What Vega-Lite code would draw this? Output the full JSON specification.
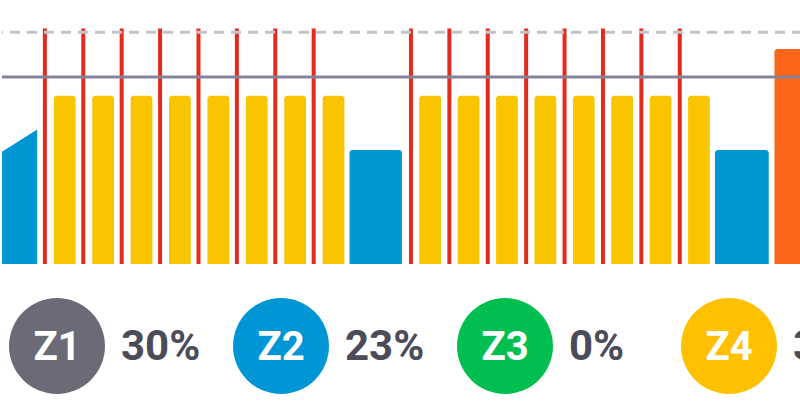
{
  "$schema": "https://vega.github.io/schema/vega-lite/v6.json",
  "padding": 0,
  "spacing": 0,
  "autosize": "pad",
  "background": "white",
  "config": {"view": {"stroke": null}, "font": "Roboto"},
  "datasets": {
    "segments": [
      {"start": 81, "end": 115, "power": 90, "zone": "Z4"},
      {"start": 141, "end": 175, "power": 90, "zone": "Z4"},
      {"start": 201, "end": 235, "power": 90, "zone": "Z4"},
      {"start": 261, "end": 295, "power": 90, "zone": "Z4"},
      {"start": 321, "end": 355, "power": 90, "zone": "Z4"},
      {"start": 381, "end": 415, "power": 90, "zone": "Z4"},
      {"start": 441, "end": 475, "power": 90, "zone": "Z4"},
      {"start": 501, "end": 535, "power": 90, "zone": "Z4"},
      {"start": 543, "end": 625, "power": 61, "zone": "Z2"},
      {"start": 652, "end": 686, "power": 90, "zone": "Z4"},
      {"start": 712, "end": 746, "power": 90, "zone": "Z4"},
      {"start": 772, "end": 806, "power": 90, "zone": "Z4"},
      {"start": 832, "end": 866, "power": 90, "zone": "Z4"},
      {"start": 892, "end": 926, "power": 90, "zone": "Z4"},
      {"start": 952, "end": 986, "power": 90, "zone": "Z4"},
      {"start": 1012, "end": 1046, "power": 90, "zone": "Z4"},
      {"start": 1072, "end": 1106, "power": 90, "zone": "Z4"},
      {"start": 1114, "end": 1198, "power": 61, "zone": "Z2"},
      {"start": 1207, "end": 1320, "power": 115, "zone": "Z5"}
    ],
    "ramp": [
      {"t": 0, "power": 60},
      {"t": 55, "power": 72}
    ],
    "markers": [
      {"t": 67, "top": 126}, {"t": 127, "top": 126}, {"t": 187, "top": 126}, {"t": 247, "top": 126},
      {"t": 307, "top": 126}, {"t": 367, "top": 126}, {"t": 427, "top": 126}, {"t": 487, "top": 126},
      {"t": 639, "top": 126}, {"t": 699, "top": 126}, {"t": 759, "top": 126}, {"t": 819, "top": 126},
      {"t": 879, "top": 126}, {"t": 939, "top": 126}, {"t": 999, "top": 126}, {"t": 1059, "top": 126}
    ],
    "levels": [
      {"level": "FTP", "power": 100},
      {"level": "max", "power": 124}
    ],
    "zones": [
      {"zone": "Z1", "share": "30%"},
      {"zone": "Z2", "share": "23%"},
      {"zone": "Z3", "share": "0%"},
      {"zone": "Z4", "share": "38%"}
    ]
  },
  "resolve": {"scale": {"x": "independent", "y": "independent", "color": "independent"}},
  "vconcat": [
    {
      "width": 800,
      "height": 264,
      "layer": [
        {
          "data": {"name": "ramp"},
          "mark": {"type": "area", "color": "#0095d3", "clip": true},
          "encoding": {
            "x": {"field": "t", "type": "quantitative", "scale": {"domain": [0, 1250], "nice": false}, "axis": null},
            "y": {"field": "power", "type": "quantitative", "scale": {"domain": [0, 141.2], "nice": false}, "axis": null}
          }
        },
        {
          "data": {"name": "segments"},
          "mark": {"type": "bar", "clip": true, "cornerRadiusTopLeft": 3, "cornerRadiusTopRight": 3},
          "encoding": {
            "x": {"field": "start", "type": "quantitative"},
            "x2": {"field": "end"},
            "y": {"field": "power", "type": "quantitative"},
            "y2": {"datum": 0},
            "color": {"field": "zone", "type": "nominal", "scale": {"domain": ["Z2", "Z4", "Z5"], "range": ["#0095d3", "#f9c400", "#fa6519"]}, "legend": null}
          }
        },
        {
          "data": {"name": "markers"},
          "mark": {"type": "rule", "color": "#e32b1d", "strokeWidth": 4, "clip": true},
          "encoding": {
            "x": {"field": "t", "type": "quantitative"},
            "y": {"field": "top", "type": "quantitative"},
            "y2": {"datum": 0}
          }
        },
        {
          "data": {"name": "levels"},
          "transform": [{"filter": "datum.level == 'max'"}],
          "mark": {"type": "rule", "color": "#c3c3cb", "strokeWidth": 3, "strokeDash": [10, 7]},
          "encoding": {"y": {"field": "power", "type": "quantitative"}}
        },
        {
          "data": {"name": "levels"},
          "transform": [{"filter": "datum.level == 'FTP'"}],
          "mark": {"type": "rule", "color": "#83839a", "strokeWidth": 3},
          "encoding": {"y": {"field": "power", "type": "quantitative"}}
        }
      ]
    },
    {
      "width": 800,
      "height": 155,
      "data": {"name": "zones"},
      "encoding": {
        "x": {"field": "zone", "type": "nominal", "scale": {"type": "point", "range": [55, 727], "padding": 0}, "axis": null},
        "y": {"value": 82}
      },
      "layer": [
        {
          "mark": {"type": "point", "shape": "circle", "filled": true, "opacity": 1, "size": 9216},
          "encoding": {
            "color": {"field": "zone", "type": "nominal", "scale": {"domain": ["Z1", "Z2", "Z3", "Z4"], "range": ["#6b6b78", "#0096d6", "#00bf50", "#ffc000"]}, "legend": null}
          }
        },
        {
          "mark": {"type": "text", "color": "white", "fontSize": 40, "fontWeight": "bold", "font": "Roboto", "align": "center", "baseline": "middle", "dy": 2},
          "encoding": {"text": {"field": "zone"}}
        },
        {
          "mark": {"type": "text", "color": "#4b4b5a", "fontSize": 42, "fontWeight": "bold", "font": "Roboto", "align": "left", "baseline": "middle", "dx": 64, "dy": 1, "clip": true},
          "encoding": {"text": {"field": "share"}}
        }
      ]
    }
  ]
}
